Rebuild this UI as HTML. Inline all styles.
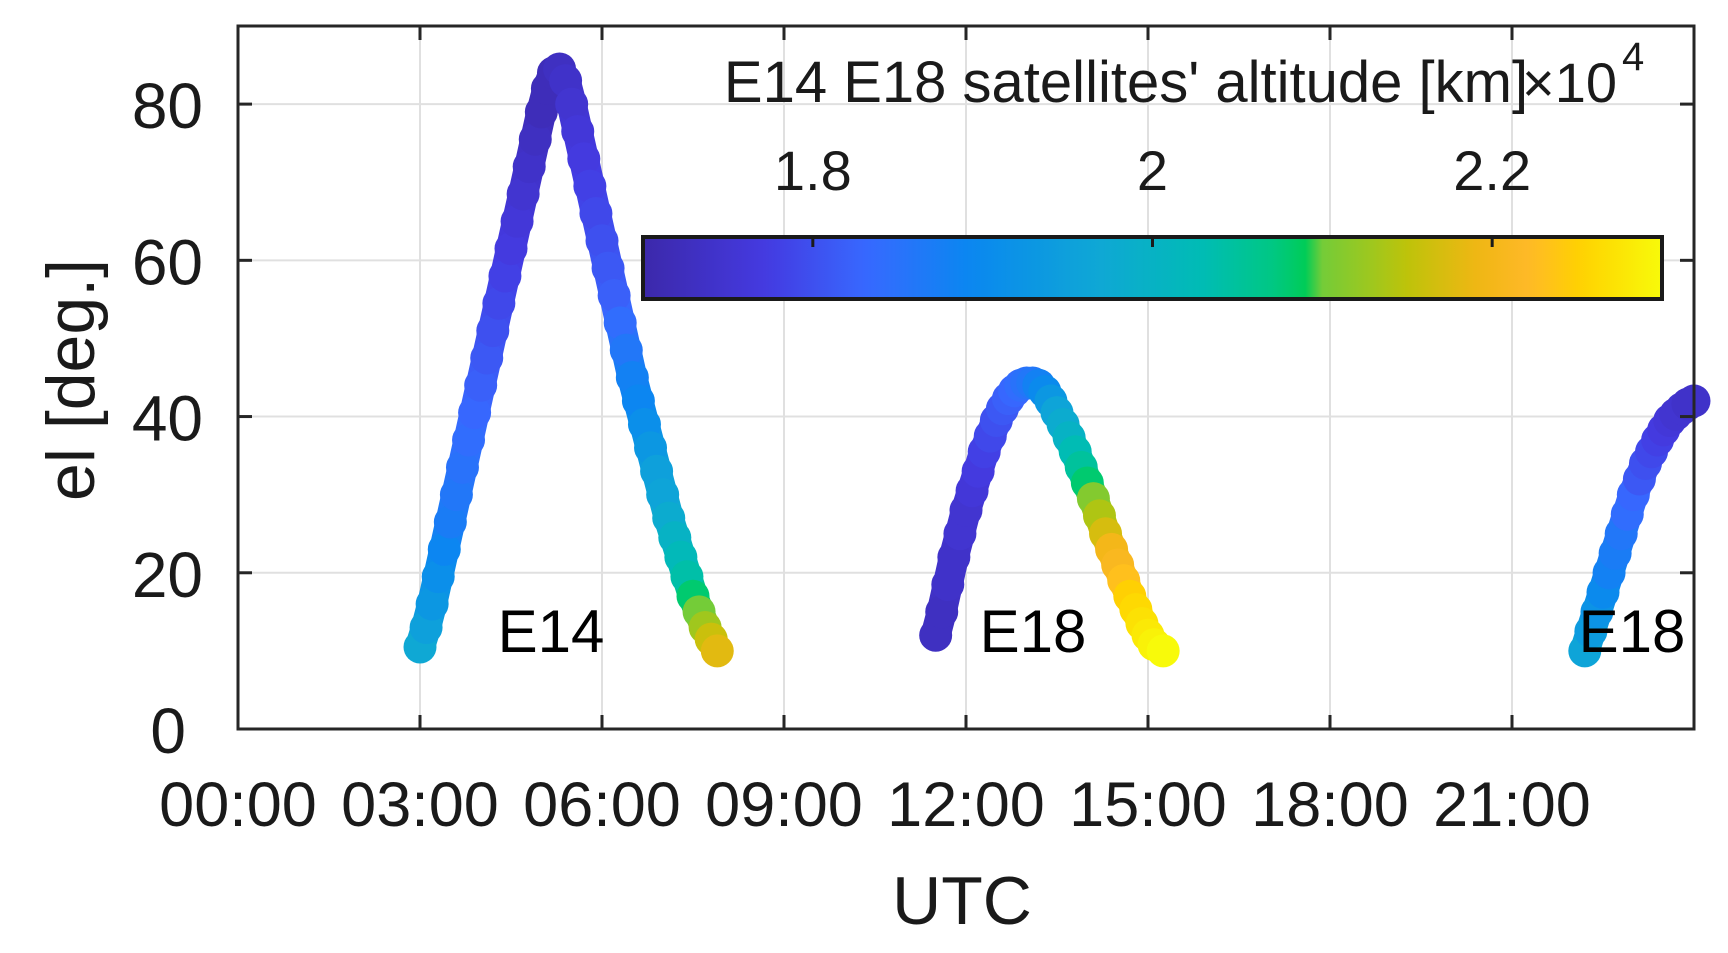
<!DOCTYPE html>
<html><head><meta charset="utf-8"><style>
body{margin:0;background:#fff}
svg{display:block;font-family:"Liberation Sans",Arial,sans-serif}
</style></head><body>
<svg id="chart" width="1728" height="953" viewBox="0 0 1728 953" xmlns="http://www.w3.org/2000/svg">
<defs><linearGradient id="cbgrad" x1="0" x2="1" y1="0" y2="0"></linearGradient></defs>
<g id="grid"></g>
<g id="marks"></g>
<g id="axes"></g>
<g id="cbar"></g>
</svg>
<script>
const xTickLabels=["00:00","03:00","06:00","09:00","12:00","15:00","18:00","21:00"];
const xTickHours=[0,3,6,9,12,15,18,21];
const yTicks=[0,20,40,60,80];
const cbTicks=[1.8,2.0,2.2];
const cbTickLabels=["1.8","2","2.2"];

const e14Time=[3.0,3.1,3.2,3.3,3.4,3.5,3.6,3.7,3.8,3.9,4.0,4.1,4.2,4.3,4.4,4.5,4.6,4.7,4.8,4.9,5.0,5.1,5.2,5.3,5.4,5.5,5.6,5.7,5.8,5.9,6.0,6.1,6.2,6.3,6.4,6.5,6.6,6.7,6.8,6.9,7.0,7.1,7.2,7.3,7.4,7.5,7.6,7.7,7.8,7.9];
const e14El=[10.5,13,16,19.5,23,26.5,30,33.5,37,40.5,44,47.5,51,54.5,58,61.5,65,68.5,72,75.5,79,82,84,84.5,83,80,76.5,73,69.5,66,62.5,59,55.5,52,48.5,45,42,39,36,33,30,27,24.5,22,19.5,17,15,13,11.5,10];
const e14Alt=[1.97,1.95,1.93,1.91,1.89,1.87,1.86,1.85,1.84,1.83,1.82,1.81,1.8,1.79,1.78,1.77,1.76,1.75,1.74,1.73,1.72,1.72,1.72,1.73,1.74,1.75,1.76,1.77,1.78,1.79,1.8,1.81,1.82,1.84,1.86,1.88,1.89,1.91,1.93,1.95,1.96,1.98,2.0,2.02,2.04,2.08,2.1,2.13,2.16,2.18];

const e18aTime=[11.5,11.6,11.7,11.8,11.9,12.0,12.1,12.2,12.3,12.4,12.5,12.6,12.7,12.8,12.9,13.0,13.1,13.2,13.3,13.4,13.5,13.6,13.7,13.8,13.9,14.0,14.1,14.2,14.3,14.4,14.5,14.6,14.7,14.8,14.9,15.0,15.1,15.25];
const e18aEl=[12,15,18.5,22,25,28,30.5,33,35.5,37.5,39.5,41,42.3,43.3,44,44.3,44.3,44,43.2,42,40.5,39,37.3,35.5,33.5,31.5,29.5,27.3,25,23,21,19,17,15.3,13.5,12,10.8,10];
const e18aAlt=[1.73,1.73,1.74,1.74,1.75,1.75,1.76,1.77,1.78,1.79,1.8,1.81,1.82,1.83,1.84,1.85,1.86,1.88,1.9,1.93,1.96,1.98,2.0,2.03,2.05,2.08,2.11,2.14,2.17,2.2,2.21,2.23,2.25,2.26,2.27,2.28,2.29,2.3];

const e18bTime=[22.2,22.3,22.4,22.5,22.6,22.7,22.8,22.9,23.0,23.1,23.2,23.3,23.4,23.5,23.6,23.7,23.8,23.9,24.0];
const e18bEl=[10,12.5,15,17.5,20,22.5,25,27.5,30,32,34,35.5,37,38.3,39.5,40.3,41,41.6,42];
const e18bAlt=[1.96,1.94,1.92,1.9,1.88,1.87,1.86,1.84,1.83,1.81,1.8,1.79,1.78,1.77,1.76,1.75,1.75,1.74,1.74];

const NS="http://www.w3.org/2000/svg";
const L=238,R=1694,T=26,B=729;
const xs=h=>L+h/24*(R-L);
const ys=v=>B-v/90*(B-T);
const CBL=643,CBR=1662,CBT=237,CBB=299,CMIN=1.7,CMAX=2.3;
const cs=v=>CBL+(v-CMIN)/(CMAX-CMIN)*(CBR-CBL);
const stops=[[0,[60,40,170]],[0.12,[68,58,225]],[0.22,[55,105,255]],[0.32,[10,135,240]],[0.45,[15,168,212]],[0.55,[0,188,180]],[0.62,[0,200,130]],[0.655,[0,205,80]],[0.66,[110,205,60]],[0.75,[190,195,10]],[0.82,[240,182,20]],[0.87,[255,185,40]],[0.92,[255,210,0]],[1,[248,250,10]]];
function cmap(v){let t=Math.max(0,Math.min(1,(v-CMIN)/(CMAX-CMIN)));
 for(let i=1;i<stops.length;i++){if(t<=stops[i][0]){const a=stops[i-1],b=stops[i];const f=(t-a[0])/(b[0]-a[0]||1);
 return `rgb(${a[1].map((c,k)=>Math.round(c+(b[1][k]-c)*f)).join(',')})`;}}return 'rgb(248,250,10)';}
function mk(tag,attrs,parent,text){const e=document.createElementNS(NS,tag);for(const k in attrs)e.setAttribute(k,attrs[k]);if(text!==undefined)e.textContent=text;parent.appendChild(e);return e;}
const grid=document.getElementById('grid'),marks=document.getElementById('marks'),axes=document.getElementById('axes'),cbar=document.getElementById('cbar');
xTickHours.forEach((h,i)=>{if(h>0){const g=mk('line',{x1:xs(h),x2:xs(h),y1:T,y2:B,stroke:'#e0e0e0','stroke-width':2},grid);

}});
yTicks.forEach(v=>{if(v>0){const g=mk('line',{x1:L,x2:R,y1:ys(v),y2:ys(v),stroke:'#e0e0e0','stroke-width':2},grid);

}});
function track(time,el,alt,name){
 for(let i=1;i<time.length;i++){const s=mk('line',{x1:xs(time[i-1]),y1:ys(el[i-1]),x2:xs(time[i]),y2:ys(el[i]),stroke:cmap((alt[i-1]+alt[i])/2),'stroke-width':30,'stroke-linecap':'round'},marks);
 
 }
 time.forEach((t,i)=>{const c=mk('circle',{cx:xs(t),cy:ys(el[i]),r:16.5,fill:cmap(alt[i])},marks);

});}
track(e14Time,e14El,e14Alt,'e14');
track(e18aTime,e18aEl,e18aAlt,'e18-pass1');
track(e18bTime,e18bEl,e18bAlt,'e18-pass2');
const box=mk('rect',{x:L,y:T,width:R-L,height:B-T,fill:'none',stroke:'#262626','stroke-width':3},axes);


xTickHours.forEach((h,i)=>{mk('line',{x1:xs(h),x2:xs(h),y1:B,y2:B-14,stroke:'#262626','stroke-width':3},axes);mk('line',{x1:xs(h),x2:xs(h),y1:T,y2:T+14,stroke:'#262626','stroke-width':3},axes);
const t=mk('text',{x:xs(h),y:826,'font-size':63,'text-anchor':'middle',fill:'#1a1a1a'},axes,xTickLabels[i]);

});
yTicks.forEach(v=>{mk('line',{x1:L,x2:L+14,y1:ys(v),y2:ys(v),stroke:'#262626','stroke-width':3},axes);mk('line',{x1:R,x2:R-14,y1:ys(v),y2:ys(v),stroke:'#262626','stroke-width':3},axes);
const t=mk('text',{x:v===0?186:203,y:ys(v)+24,'font-size':64,'text-anchor':'end',fill:'#1a1a1a'},axes,String(v));

});
const yl=mk('text',{x:0,y:0,'font-size':68,'text-anchor':'middle',fill:'#1a1a1a',transform:'translate(94,380) rotate(-90)'},axes,'el [deg.]');


const xl=mk('text',{x:962,y:924,'font-size':68,'text-anchor':'middle',fill:'#1a1a1a'},axes,'UTC');


[['E14',551],['E18',1033],['E18',1632]].forEach(([s,x])=>{const t=mk('text',{x:x,y:652,'font-size':60,'text-anchor':'middle',fill:'#000'},axes,s);

});
const grad=document.getElementById('cbgrad');
for(let i=0;i<=60;i++){const v=CMIN+(CMAX-CMIN)*i/60;mk('stop',{offset:(i/60),'stop-color':cmap(v)},grad);}
const cb=mk('rect',{x:CBL,y:CBT,width:CBR-CBL,height:CBB-CBT,fill:'url(#cbgrad)',stroke:'#1a1a1a','stroke-width':4},cbar);


cbTicks.forEach((v,i)=>{mk('line',{x1:cs(v),x2:cs(v),y1:CBT,y2:CBT+10,stroke:'#1a1a1a','stroke-width':3},cbar);
const t=mk('text',{x:cs(v),y:190,'font-size':56,'text-anchor':'middle',fill:'#1a1a1a'},cbar,cbTickLabels[i]);

});
const ct=mk('text',{x:1126,y:102,'font-size':58,'text-anchor':'middle',fill:'#1a1a1a'},cbar,"E14 E18 satellites' altitude [km]");


const ex=mk('text',{x:1522,y:102,'font-size':56,fill:'#1a1a1a'},cbar,'×10');


const ep=mk('text',{x:1622,y:70,'font-size':40,fill:'#1a1a1a'},cbar,'4');


</script>
</body></html>
